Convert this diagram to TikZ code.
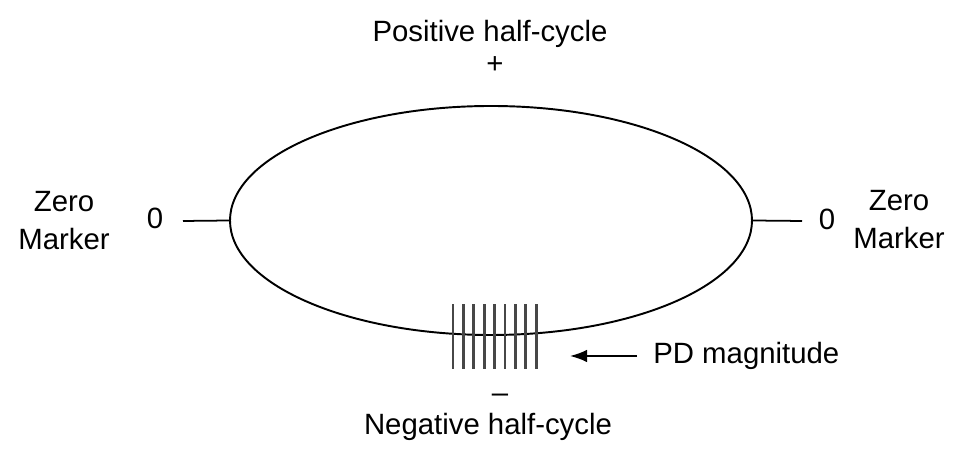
\documentclass[tikz,border=0pt]{standalone}
\usepackage{fontspec}
\setmainfont{Liberation Sans}
\usetikzlibrary{arrows.meta,positioning,shapes.geometric}

\begin{document}
\begin{tikzpicture}[
  font=\fontsize{16.7}{21.6}\selectfont,
  cyc/.style={draw, ellipse, line width=1.1pt, minimum width=10.44cm,
              minimum height=4.58cm, inner sep=0pt},
  lbl/.style={inner sep=0pt, align=center},
  bar/.style={draw=black!72, line width=1.6pt},
  zl/.style={line width=1.0pt},
  a/.style={-{Latex[length=3.4mm, width=2.5mm]}, line width=1.0pt}
]
\useasboundingbox (0,0) rectangle (19.1,9.1);

% ---- ellipse ----
\node[cyc] (ell) at (9.82,4.69) {};

% ---- half-cycle labels ----
\node[lbl, anchor=base] (pos)  at (9.80,8.26) {Positive half-cycle};
\node[lbl]              (plus) at (9.90,7.80) {+};
\node[lbl]              (minus)at (10.00,1.14) {--};
\node[lbl, anchor=base] (neg)  at (9.76,0.40) {Negative half-cycle};

% ---- zero markers ----
\node[lbl] (zmL) at (1.28,4.68) {Zero\\Marker};
\node[lbl] (z0L) at (3.10,4.73) {0};
\coordinate (zcL) at (3.66,4.68);
\draw[zl] (zcL) -- (ell.west);

\node[lbl] (zmR) at (17.98,4.70) {Zero\\Marker};
\node[lbl] (z0R) at (16.54,4.72) {0};
\coordinate (zcR) at (16.04,4.68);
\draw[zl] (ell.east) -- (zcR);

% ---- PD pulses ----
\foreach \i in {0,...,8}
  \draw[bar] (9.06+0.208*\i,1.72) -- (9.06+0.208*\i,3.02);

\coordinate (pdtip) at (11.40,1.98);
\node[anchor=west, inner xsep=0.32cm, inner ysep=0pt] (pd) at (12.74,1.98) {PD magnitude};
\draw[a] (pd.west) -- (pdtip);
\end{tikzpicture}
\end{document}
